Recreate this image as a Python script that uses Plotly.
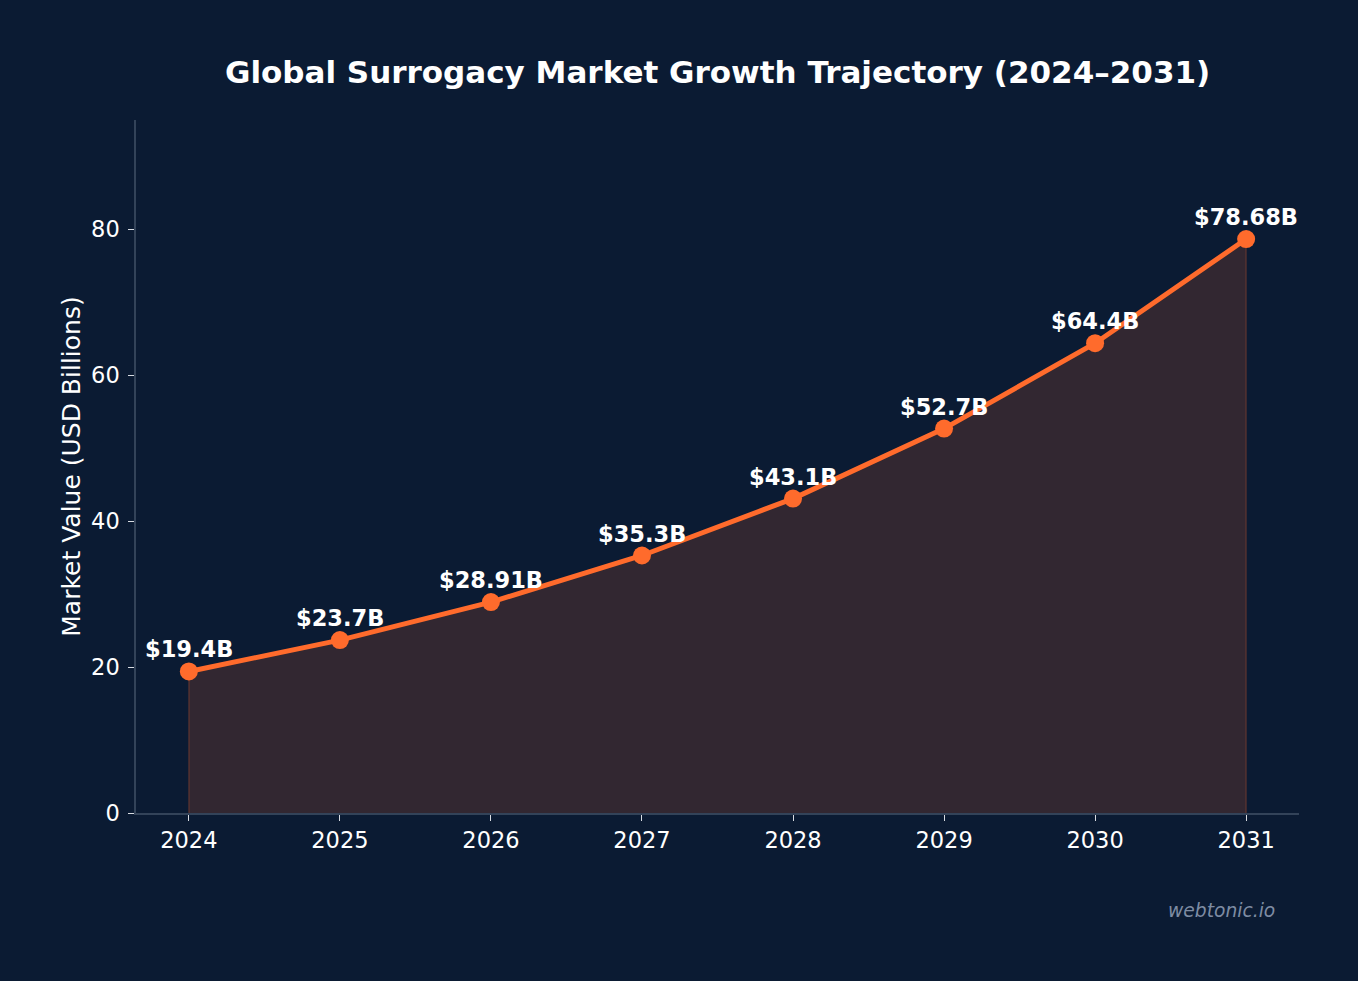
import plotly.graph_objects as go

years = [2024, 2025, 2026, 2027, 2028, 2029, 2030, 2031]
values = [19.4, 23.7, 28.91, 35.3, 43.1, 52.7, 64.4, 78.68]
labels = ["$19.4B", "$23.7B", "$28.91B", "$35.3B", "$43.1B", "$52.7B", "$64.4B", "$78.68B"]
y_ticks = [0, 20, 40, 60, 80]

BG = "#0b1b33"
ORANGE = "#ff6b2c"
SPINE = "#334359"
TICK = "#d8dce2"
FONT = "DejaVu Sans"

fig = go.Figure()
fig.add_trace(go.Scatter(
    x=years, y=values, mode="lines",
    line=dict(color="rgba(0,0,0,0)", width=0),
    fill="tozeroy", fillcolor="rgba(255,107,44,0.16)",
    hoverinfo="skip", showlegend=False,
))
# faint edges of the filled area
fig.add_trace(go.Scatter(
    x=[years[0], years[0], None, years[-1], years[-1]],
    y=[0, values[0], None, 0, values[-1]],
    mode="lines", line=dict(color="rgba(255,107,44,0.22)", width=1.5),
    hoverinfo="skip", showlegend=False,
))
fig.add_trace(go.Scatter(
    x=years, y=values, mode="lines+markers",
    line=dict(color=ORANGE, width=5),
    marker=dict(color=ORANGE, size=18),
    hoverinfo="skip", showlegend=False,
))

for x, y, t in zip(years, values, labels):
    fig.add_annotation(x=x, y=y, text=t, showarrow=False, yanchor="bottom",
                       yshift=7, font=dict(family=FONT, size=22.5, color="white", weight="bold"))

fig.add_annotation(xref="paper", yref="paper", x=1.0, y=-0.1414, xanchor="right", yanchor="middle",
                   xshift=-22, text="<i>webtonic.io</i>", showarrow=False,
                   font=dict(family=FONT, size=18.7, color="#7e8ca3"))

fig.update_layout(
    width=1358, height=981,
    margin=dict(l=136, r=59, t=120, b=168),
    paper_bgcolor=BG, plot_bgcolor=BG,
    title=dict(text="<b>Global Surrogacy Market Growth Trajectory (2024–2031)</b>",
               x=0.5284, xanchor="center", y=0.926, yanchor="middle",
               font=dict(family=FONT, size=31, color="white")),
    font=dict(family=FONT, color="white"),
    xaxis=dict(range=[2023.65, 2031.35], tickvals=years, ticktext=[str(y) for y in years],
               showgrid=False, zeroline=False, showline=True, linecolor=SPINE, linewidth=1.5,
               ticks="outside", ticklen=6, tickcolor=TICK, tickwidth=1.2,
               tickfont=dict(family=FONT, size=22.5, color="white")),
    yaxis=dict(range=[0, 95], tickvals=y_ticks,
               showgrid=False, zeroline=False, showline=True, linecolor=SPINE, linewidth=1.5,
               ticks="outside", ticklen=6, tickcolor=TICK, tickwidth=1.2, ticklabelstandoff=4,
               tickfont=dict(family=FONT, size=22.5, color="white"),
               title=dict(text="Market Value (USD Billions)", standoff=3,
                          font=dict(family=FONT, size=25, color="white"))),
)

fig.write_html("out.html")
